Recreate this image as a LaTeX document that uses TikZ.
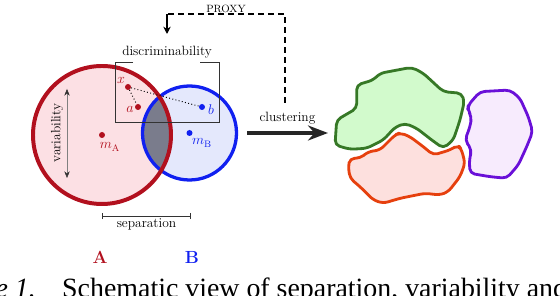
\documentclass[tikz,border=0pt]{standalone}
\usepackage{fontspec}
\newfontfamily\capfont{Liberation Serif}
\usepackage{tikz}
\usetikzlibrary{arrows.meta,positioning,calc}
\definecolor{setA}{RGB}{178,16,30}
\definecolor{setAfill}{RGB}{252,224,228}
\definecolor{setB}{RGB}{16,32,240}
\definecolor{setBfill}{RGB}{228,232,252}
\definecolor{lens}{RGB}{122,124,140}
\definecolor{grnline}{RGB}{54,120,38}
\definecolor{grnfill}{RGB}{210,250,204}
\definecolor{orgline}{RGB}{230,64,14}
\definecolor{orgfill}{RGB}{253,224,222}
\definecolor{purline}{RGB}{106,16,216}
\definecolor{purfill}{RGB}{247,235,253}
\tikzset{
  >={Stealth[length=2.2mm,width=2.2mm]},
  lbl/.style={font=\fontsize{11.5}{13}\selectfont, inner sep=1pt},
  setlbl/.style={font=\fontsize{15}{18}\selectfont\bfseries, inner sep=1pt},
  ptdot/.style={circle, fill, inner sep=0pt, minimum size=1.8mm},
  circA/.style={draw=setA, line width=3.4pt},
  circB/.style={draw=setB, line width=2.8pt},
  blob/.style={line width=2.4pt, rounded corners=4pt, line join=round},
  proxyline/.style={dashed, dash pattern=on 1.8mm off 1.2mm, line width=0.9pt},
  bigarrow/.style={-{Stealth[length=6mm,width=4.5mm]}, line width=3pt, draw=black!85},
  captext/.style={font=\capfont\fontsize{23.8}{28}\selectfont, inner sep=0pt},
  capnumber/.style={font=\capfont\fontsize{23.8}{28}\selectfont\itshape, inner sep=0pt},
}
\begin{document}
\begin{tikzpicture}[x=0.3mm, y=-0.3mm]
  \useasboundingbox (0,0) rectangle (560,296);
  % the two sets
  \coordinate (cA) at (102,135);
  \coordinate (cB) at (189.5,133);
  \fill[setAfill] (cA) circle[radius=69];
  \fill[setBfill] (cB) circle[radius=47];
  \begin{scope}
    \clip (cA) circle[radius=69];
    \fill[lens] (cB) circle[radius=47];
  \end{scope}
  \draw[circB] (cB) circle[radius=47];
  \draw[circA] (cA) circle[radius=69];

  \node[ptdot, setA] (mA) at (cA) {};
  \node[ptdot, setB] (mB) at (cB) {};
  \node[lbl, text=setA] (mAlbl) at (110,147) {$m_{\mathrm{A}}$};
  \node[lbl, text=setB] (mBlbl) at (202,143) {$m_{\mathrm{B}}$};

  % variability and separation
  \coordinate (varTop) at (67,89);
  \coordinate (varBot) at (67,178);
  \draw[gray, thin, {Stealth[length=2mm,width=1.6mm,black!80]}-{Stealth[length=2mm,width=1.6mm,black!80]}] (varTop) -- (varBot);
  \node[lbl, rotate=90] (varlbl) at (57,133) {variability};
  \coordinate (sepL) at (102,216);
  \coordinate (sepR) at (191,216);
  \draw[|-|, black!80, semithick] (sepL) -- (sepR);
  \node[lbl, below=1pt of $(sepL)!0.5!(sepR)$] (seplbl) {separation};
  \node[setlbl, text=setA] (Albl) at (100,257) {A};
  \node[setlbl, text=setB] (Blbl) at (192,257) {B};

  % discriminability window
  \draw[black!80, thick] (133,62) -- (115,62) -- (115,122) -- (219,122) -- (219,62) -- (200,62);
  \node[lbl] (disc) at (167,52) {discriminability};
  \node[ptdot, setA] (ptx) at (128,87) {};
  \node[ptdot, setA] (pta) at (138,107) {};
  \node[ptdot, setB] (ptb) at (202,107) {};
  \node[lbl, text=setA] at (121,80) {$x$};
  \node[lbl, text=setA] at (130,109) {$a$};
  \node[lbl, text=setB] at (211,110) {$b$};
  \draw[dotted, thick] (ptx) -- (pta);
  \draw[dotted, thick] (ptx) -- (ptb);

  % proxy loop
  \coordinate (proxyOut) at (285,103);
  \coordinate (proxyTop) at (167,14);
  \coordinate (proxyIn) at (167,34);
  \draw[proxyline] (proxyOut) |- (proxyTop) node[pos=0.75, above=0pt, font=\fontsize{9}{10}\selectfont, inner sep=1pt] {PROXY};
  \draw[line width=0.9pt, ->] (proxyTop) -- (proxyIn);

  % clustering
  \coordinate (clusIn) at (247,133);
  \coordinate (clusOut) at (328,133);
  \draw[bigarrow] (clusIn) -- (clusOut) node[midway, above=5pt, lbl] {clustering};

  % resulting clusters
  \filldraw[blob, draw=grnline, fill=grnfill] (335,145) -- (336.7,120) -- (356.7,108.3) -- (356.7,85) -- (373.3,80) -- (380,73.3) -- (411.7,67.3) -- (423.3,73.3) -- (443.3,91.7) -- (461.7,93.3) -- (464.3,101.7) -- (460,120) -- (453.3,140) -- (443.3,148.3) -- (431.7,140) -- (416.7,128.3) -- (405,123.3) -- (395,127.3) -- (383.3,140) -- (366.7,148.3) -- (350,149.3) -- cycle;
  \filldraw[blob, draw=orgline, fill=orgfill] (350,158.3) -- (360,158.3) -- (368.3,151.7) -- (380,150) -- (395,135) -- (400,132.7) -- (410,136.7) -- (423.3,146.7) -- (433.3,155) -- (450,150) -- (458.3,145) -- (461.7,150) -- (465,163.3) -- (460,176.7) -- (448.3,191.7) -- (440,195) -- (425,193.3) -- (400,198.3) -- (383.3,203.3) -- (373.3,200) -- (360,186.7) -- (350,178.3) -- (348.3,166.7) -- cycle;
  \filldraw[blob, draw=purline, fill=purfill] (468.3,105) -- (480,91.7) -- (510,90) -- (520,98.3) -- (528.3,116.7) -- (532.7,131.7) -- (526.7,146.7) -- (518.3,165) -- (506.7,178.3) -- (490,176.7) -- (470,173.3) -- (469.3,160) -- (471.7,150) -- (465,140) -- (470,126.7) -- (471.7,116.7) -- (467.7,110) -- cycle;

  % caption, cut by the page edge
  \node[capnumber, anchor=base east] (capnum) at (36,298) {Figure 1.};
  \node[captext, anchor=base west] (captxt) at (62,298) {Schematic view of separation, variability and};
\end{tikzpicture}
\end{document}
